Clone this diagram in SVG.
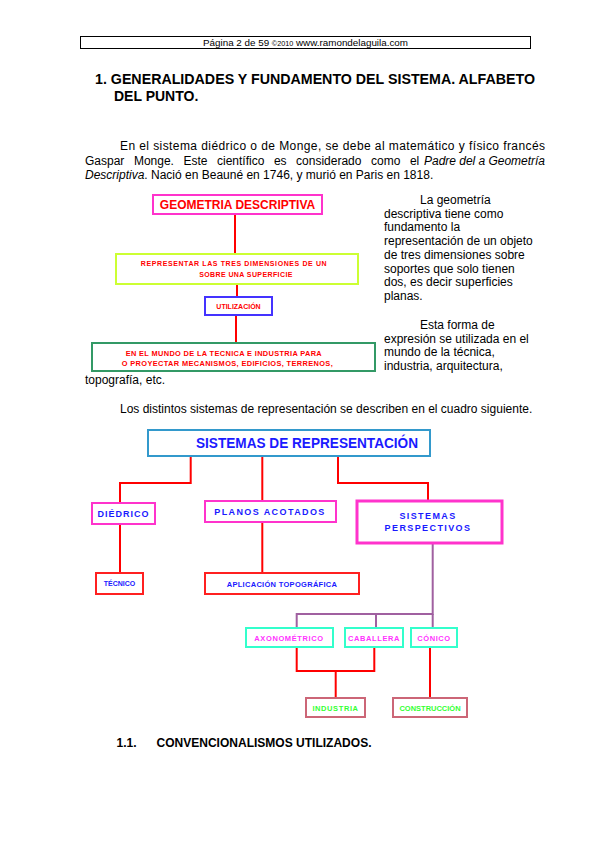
<svg xmlns="http://www.w3.org/2000/svg" width="599" height="848" viewBox="0 0 599 848">
<style>
text{font-family:"Liberation Sans",Arial,sans-serif;}
.body{font-size:12px;fill:#000;}
.h{font-size:14px;font-weight:bold;fill:#000;}
.box{fill:#fff;stroke-width:2;}
.ln{fill:none;stroke:#ff0000;stroke-width:2;}
.pl{fill:none;stroke:#a060a0;stroke-width:2;}
.red{fill:#ff0000;font-weight:bold;}
.blu{fill:#1a1aff;font-weight:bold;}
.mag{fill:#ff33ff;font-weight:bold;font-size:7.5px;}
.grn{fill:#33ff33;font-weight:bold;font-size:7.5px;}
</style>
<rect width="599" height="848" fill="#fff"/>
<g id="header">
<rect x="80.5" y="36.5" width="450" height="12" fill="none" stroke="#000" stroke-width="1"/>
<text x="203" y="46" font-size="9.5" textLength="205" lengthAdjust="spacingAndGlyphs">Página 2 de 59 <tspan font-size="7">©2010</tspan>  www.ramondelaguila.com</text>
</g>
<g id="title">
<text class="h" x="95" y="84" textLength="440" lengthAdjust="spacingAndGlyphs">1.  GENERALIDADES Y FUNDAMENTO DEL SISTEMA. ALFABETO</text>
<text class="h" x="114" y="101">DEL PUNTO.</text>
</g>
<g id="paragraph" class="body">
<text class="body" x="120" y="150" textLength="425" lengthAdjust="spacing">En el sistema diédrico  o de Monge, se debe al matemático y físico francés</text>
<text class="body" x="85" y="164.5" word-spacing="6.2">Gaspar Monge. Este científico es considerado como el</text>
<text class="body" x="424" y="164.5" font-style="italic" textLength="121" lengthAdjust="spacing">Padre del a Geometría</text>
<text class="body" x="85" y="179"><tspan font-style="italic">Descriptiva</tspan>. Nació en Beauné en 1746, y murió en Paris en 1818.</text>
</g>
<g id="connectors1">
<line class="ln" x1="235" y1="214" x2="235" y2="254"/>
<line class="ln" x1="237" y1="284" x2="237" y2="297"/>
<line class="ln" x1="236" y1="315" x2="236" y2="343"/>
</g>
<g id="geometria">
<rect class="box" x="153" y="195" width="169" height="19" stroke="#ff33cc"/>
<text class="red" x="237.5" y="209" font-size="12" text-anchor="middle">GEOMETRIA DESCRIPTIVA</text>
</g>
<g id="representar">
<rect class="box" x="116" y="254" width="242" height="30" stroke="#ccff33"/>
<text class="red" x="234" y="266" font-size="7" text-anchor="middle" letter-spacing="0.6">REPRESENTAR LAS TRES DIMENSIONES DE UN</text>
<text class="red" x="246" y="277" font-size="7" text-anchor="middle" letter-spacing="0.4">SOBRE UNA SUPERFICIE</text>
</g>
<g id="utilizacion">
<rect class="box" x="205" y="297" width="67" height="18" stroke="#4433ff"/>
<text class="red" x="238.5" y="309" font-size="7" text-anchor="middle">UTILIZACIÓN</text>
</g>
<g id="mundo">
<rect class="box" x="92" y="343" width="283" height="28" stroke="#339966"/>
<text class="red" x="125.7" y="356" font-size="7.4" textLength="196" lengthAdjust="spacing">EN EL MUNDO DE LA TECNICA E INDUSTRIA PARA</text>
<text class="red" x="121.7" y="365.5" font-size="7.4" textLength="211" lengthAdjust="spacing">O PROYECTAR MECANISMOS, EDIFICIOS, TERRENOS,</text>
</g>
<text class="body" x="85" y="384">topografía, etc.</text>
<g id="side-text" class="body">
<text class="body" x="420" y="204">La geometría</text>
<text class="body" x="384" y="217.7">descriptiva tiene como</text>
<text class="body" x="384" y="231.4">fundamento la</text>
<text class="body" x="384" y="245.1">representación de un objeto</text>
<text class="body" x="384" y="258.8">de tres dimensiones sobre</text>
<text class="body" x="384" y="272.5">soportes que solo tienen</text>
<text class="body" x="384" y="286.2">dos, es decir superficies</text>
<text class="body" x="384" y="299.9">planas.</text>
<text class="body" x="420" y="329">Esta forma de</text>
<text class="body" x="384" y="342.7">expresión  se utilizada en el</text>
<text class="body" x="384" y="356.4">mundo de la técnica,</text>
<text class="body" x="384" y="370.1">industria, arquitectura,</text>
</g>
<text class="body" x="120" y="413">Los distintos sistemas de representación se describen en el cuadro siguiente.</text>
<g id="connectors2">
<polyline class="ln" points="190.7,456 190.7,483 120,483 120,503"/>
<line class="ln" x1="262.3" y1="456" x2="262.3" y2="501"/>
<polyline class="ln" points="338,456 338,483 428,483 428,501"/>
<line class="ln" x1="120" y1="524" x2="120" y2="573"/>
<line class="ln" x1="262.3" y1="522" x2="262.3" y2="573"/>
<polyline class="pl" points="432.7,543 432.7,614 296.7,614 296.7,628"/>
<line class="pl" x1="376" y1="614" x2="376" y2="628"/>
<line class="pl" x1="432.7" y1="614" x2="432.7" y2="628"/>
<polyline class="ln" points="296.7,647 296.7,671 374.3,671 374.3,647"/>
<line class="ln" x1="335.7" y1="671" x2="335.7" y2="698"/>
<line class="ln" x1="430" y1="647" x2="430" y2="698"/>
</g>
<g id="sistemas">
<rect class="box" x="148" y="430" width="282" height="26" stroke="#3399cc"/>
<text class="blu" x="196" y="448" font-size="14" textLength="222" lengthAdjust="spacingAndGlyphs">SISTEMAS DE REPRESENTACIÓN</text>
</g>
<g id="diedrico">
<rect class="box" x="92" y="503" width="63" height="21" stroke="#ff33cc"/>
<text class="blu" x="123.5" y="517" font-size="9" text-anchor="middle" letter-spacing="1">DIÉDRICO</text>
</g>
<g id="planos">
<rect class="box" x="205" y="501" width="131" height="21" stroke="#ff33cc"/>
<text class="blu" x="270" y="514.5" font-size="9" text-anchor="middle" letter-spacing="1.4">PLANOS ACOTADOS</text>
</g>
<g id="perspectivos">
<rect x="357" y="501" width="145" height="42" fill="#fff" stroke="#ff33cc" stroke-width="3"/>
<text class="blu" x="428" y="518.5" font-size="9" text-anchor="middle" letter-spacing="1.4">SISTEMAS</text>
<text class="blu" x="428" y="530.5" font-size="9" text-anchor="middle" letter-spacing="1.4">PERSPECTIVOS</text>
</g>
<g id="tecnico">
<rect class="box" x="96" y="573" width="47" height="21" stroke="#ff2020"/>
<text class="blu" x="119.5" y="586" font-size="7" text-anchor="middle">TÉCNICO</text>
</g>
<g id="aplicacion">
<rect class="box" x="205" y="573" width="154" height="21" stroke="#ff2020"/>
<text class="blu" x="282" y="587" font-size="7.5" text-anchor="middle" letter-spacing="0.3">APLICACIÓN TOPOGRÁFICA</text>
</g>
<g id="axonometrico">
<rect class="box" x="246" y="628" width="87" height="19" stroke="#33ffcc"/>
<text class="mag" x="289" y="640.5" text-anchor="middle" letter-spacing="0.6">AXONOMÉTRICO</text>
</g>
<g id="caballera">
<rect class="box" x="345" y="628" width="58" height="19" stroke="#33ffcc"/>
<text class="mag" x="374" y="640.5" text-anchor="middle" letter-spacing="0.6">CABALLERA</text>
</g>
<g id="conico">
<rect class="box" x="411" y="628" width="46" height="19" stroke="#33ffcc"/>
<text class="mag" x="434" y="640.5" text-anchor="middle" letter-spacing="0.6">CÓNICO</text>
</g>
<g id="industria">
<rect class="box" x="306" y="698" width="59" height="19" stroke="#cc6677"/>
<text class="grn" x="335.5" y="710.5" text-anchor="middle" letter-spacing="0.6">INDUSTRIA</text>
</g>
<g id="construccion">
<rect class="box" x="393" y="698" width="74" height="19" stroke="#cc6677"/>
<text class="grn" x="430" y="710.5" text-anchor="middle">CONSTRUCCIÓN</text>
</g>
<g id="subtitle">
<text class="h" x="116.5" y="747" font-size="12" style="font-size:12px">1.1.</text>
<text class="h" x="156.5" y="747" style="font-size:12px" textLength="215" lengthAdjust="spacingAndGlyphs">CONVENCIONALISMOS UTILIZADOS.</text>
</g>
</svg>
